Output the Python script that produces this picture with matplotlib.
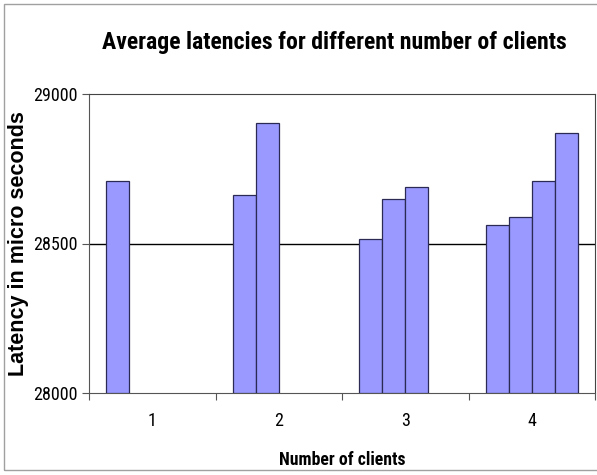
import numpy as np
import matplotlib.pyplot as plt
from matplotlib.patches import Rectangle

categories = ["1", "2", "3", "4"]
# one series per client slot; NaN where that client does not exist
series = [
    [28708, 28661, 28516, 28562],
    [np.nan, 28904, 28648, 28588],
    [np.nan, np.nan, 28690, 28708],
    [np.nan, np.nan, np.nan, 28868],
]
yticks = [28000, 28500, 29000]

narrow = "Roboto Condensed"

fig = plt.figure(figsize=(5.97, 4.75), dpi=100)
fig.patches.append(Rectangle((4 / 597, 5 / 475), 600 / 597, 466 / 475,
                             transform=fig.transFigure, fill=False,
                             edgecolor="#a0a0a0", linewidth=1.0))
ax = fig.add_axes([89 / 597, 82 / 475, 506 / 597, 299 / 475])

n = len(series)
gap = 0.2727  # Excel-like gap width (fraction of category)
bw = (1 - gap) / n
x0 = np.arange(len(categories))
for i, vals in enumerate(series):
    xs = x0 + gap / 2 + i * bw
    vals = np.array(vals, dtype=float)
    ok = ~np.isnan(vals)
    ax.bar(xs[ok], vals[ok] - 28000, bottom=28000, width=bw, align="edge",
           color="#9999ff", edgecolor="#2a2a55", linewidth=0.9, zorder=3)

ax.set_xlim(0, len(categories))
ax.set_ylim(28000, 29000)
ax.set_yticks(yticks)
ax.set_yticklabels([str(t) for t in yticks], family=narrow, fontsize=13)
ax.set_xticks(np.arange(len(categories) + 1))
ax.set_xticklabels([])
ax.set_xticks(x0 + 0.5, minor=True)
ax.set_xticklabels(categories, minor=True, family=narrow, fontsize=13)
ax.tick_params(axis="x", which="minor", length=0, pad=14)
ax.tick_params(axis="x", which="major", length=5, direction="out", color="#555555")
ax.tick_params(axis="y", length=5, direction="out", color="#555555", pad=3)

ax.axhline(28500, color="black", linewidth=1.0, zorder=1)
for s in ["left", "bottom"]:
    ax.spines[s].set_color("#555555")
for s in ["top", "right"]:
    ax.spines[s].set_color("#444444")

ax.set_ylabel("Latency in micro seconds", family="Liberation Sans",
              fontweight="bold", fontsize=15.5, labelpad=3)
ax.set_xlabel("Number of clients", family=narrow, fontweight="bold",
              fontsize=12.8, labelpad=15)
fig.text(334 / 597, 1 - 49 / 475, "Average latencies for different number of clients",
         family=narrow, fontweight="bold", fontsize=17.1, ha="center", va="baseline")

fig.savefig("out.png", dpi=100)
